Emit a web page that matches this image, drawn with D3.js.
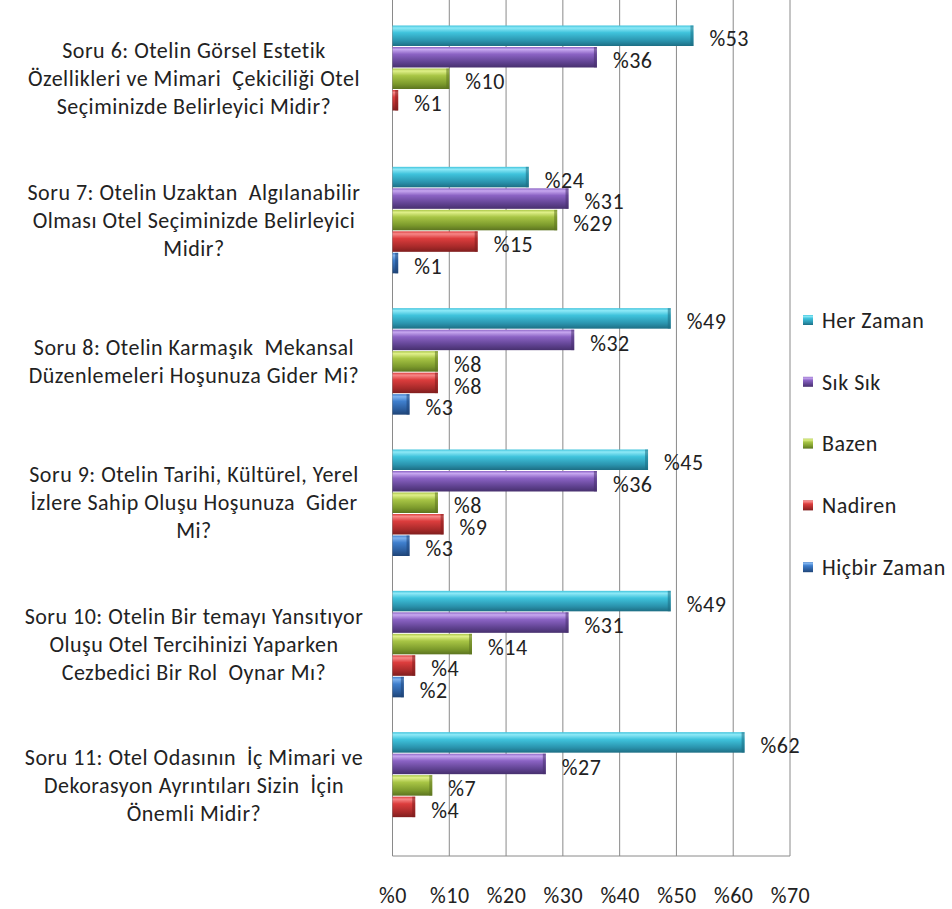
<!DOCTYPE html>
<html>
<head>
<meta charset="utf-8">
<script src="https://cdn.jsdelivr.net/npm/d3@7/dist/d3.min.js"></script>
<style>
  html, body { margin: 0; padding: 0; background: #fff; }
  svg { display: block; }
  text { font-family: Carlito, Lato, "Open Sans", sans-serif; fill: #222; letter-spacing: 0.5px; }
</style>
</head>
<body>
<svg id="chart" width="952" height="909"></svg>
<script>
// Survey questions (category labels, one array of lines per question)
const categories = ["Soru 6", "Soru 7", "Soru 8", "Soru 9", "Soru 10", "Soru 11"];
const categoryLines = [
  ["Soru 6: Otelin Görsel Estetik", "Özellikleri ve Mimari  Çekiciliği Otel", "Seçiminizde Belirleyici Midir?"],
  ["Soru 7: Otelin Uzaktan  Algılanabilir", "Olması Otel Seçiminizde Belirleyici", "Midir?"],
  ["Soru 8: Otelin Karmaşık  Mekansal", "Düzenlemeleri Hoşunuza Gider Mi?"],
  ["Soru 9: Otelin Tarihi, Kültürel, Yerel", "İzlere Sahip Oluşu Hoşunuza  Gider", "Mi?"],
  ["Soru 10: Otelin Bir temayı Yansıtıyor", "Oluşu Otel Tercihinizi Yaparken", "Cezbedici Bir Rol  Oynar Mı?"],
  ["Soru 11: Otel Odasının  İç Mimari ve", "Dekorasyon Ayrıntıları Sizin  İçin", "Önemli Midir?"]
];

// Answer options (series)
const series = ["Her Zaman", "Sık Sık", "Bazen", "Nadiren", "Hiçbir Zaman"];

// Percentages per series, in category order (null = no answer shown)
const herZaman    = [53, 24, 49, 45, 49, 62];
const sikSik      = [36, 31, 32, 36, 31, 27];
const bazen       = [10, 29, 8, 8, 14, 7];
const nadiren     = [1, 15, 8, 9, 4, 4];
const hicbirZaman = [null, 1, 3, 3, 2, null];

// Axis ticks
const xTicks = [0, 10, 20, 30, 40, 50, 60, 70];

const seriesValues = [herZaman, sikSik, bazen, nadiren, hicbirZaman];

// Bar shading: [highlight, main, shadow, edge]
const palette = [
  ["#8ee9f7", "#3fc3dc", "#2a93ad", "#1d6e84"],
  ["#c7a8f0", "#8b63c4", "#5f4290", "#47306e"],
  ["#e0f08a", "#a8c545", "#7c9a2c", "#5c7420"],
  ["#f78888", "#dc3d3d", "#a82a2a", "#801e1e"],
  ["#7fb3ef", "#3f7fcd", "#2b5c9c", "#1f4476"]
];

const FONT = 22;

const svg = d3.select("#chart");
const defs = svg.append("defs");

palette.forEach((c, i) => {
  const g = defs.append("linearGradient")
    .attr("id", "bar" + i).attr("x1", 0).attr("y1", 0).attr("x2", 0).attr("y2", 1);
  g.append("stop").attr("offset", "0%").attr("stop-color", c[1]);
  g.append("stop").attr("offset", "12%").attr("stop-color", c[0]);
  g.append("stop").attr("offset", "35%").attr("stop-color", c[1]);
  g.append("stop").attr("offset", "75%").attr("stop-color", c[2]);
  g.append("stop").attr("offset", "100%").attr("stop-color", c[3]);
});

const plotTop = 0, plotBottom = 856;

const x = d3.scaleLinear().domain([0, 70]).range([392.5, 790]);
const y = d3.scaleBand().domain(categories).range([8, 856]).padding(0);
const ySub = d3.scaleBand().domain(series).range([17, 124.5]).padding(0);

// Gridlines and frame
const grid = svg.append("g");
grid.selectAll("line.v").data(xTicks).join("line")
  .attr("x1", d => x(d)).attr("x2", d => x(d))
  .attr("y1", plotTop).attr("y2", plotBottom)
  .attr("stroke", "#8a8a8a").attr("stroke-width", 1);
grid.append("line")
  .attr("x1", x(0)).attr("x2", x(70))
  .attr("y1", plotBottom).attr("y2", plotBottom)
  .attr("stroke", "#8a8a8a").attr("stroke-width", 1);

// Tick labels
const xAxis = d3.axisBottom(x).tickValues(xTicks).tickFormat(d => "%" + d).tickSize(0);
const axisG = svg.append("g").attr("transform", `translate(0, 884)`).call(xAxis);
axisG.select(".domain").remove();
axisG.selectAll("text").attr("font-size", FONT)
  .style("font-family", "Carlito, Lato, 'Open Sans', sans-serif")
  .style("letter-spacing", "0.5px")
  .attr("fill", "#222");

// Bars
const rows = [];
categories.forEach((cat, ci) => {
  series.forEach((s, si) => {
    const v = seriesValues[si][ci];
    if (v !== null) rows.push({ cat, s, si, v });
  });
});

const bars = svg.append("g");
const bh = ySub.bandwidth();
rows.forEach(d => {
  const y0 = y(d.cat) + ySub(d.s);
  const w = x(d.v) - x(0);
  bars.append("rect")
    .attr("x", x(0)).attr("y", y0 + 0.5)
    .attr("width", w).attr("height", bh - 1)
    .attr("fill", `url(#bar${d.si})`);
  // bevelled end cap
  bars.append("rect")
    .attr("x", x(d.v) - Math.min(3, w)).attr("y", y0 + 0.5)
    .attr("width", Math.min(3, w)).attr("height", bh - 1)
    .attr("fill", palette[d.si][3]).attr("opacity", 0.55);
});

// Value labels
svg.append("g").selectAll("text").data(rows).join("text")
  .attr("x", d => x(d.v) + 16)
  .attr("y", d => y(d.cat) + ySub(d.s) + bh / 2 + 3)
  .attr("dy", "0.35em")
  .attr("font-size", FONT)
  .text(d => "%" + d.v);

// Category labels
const lineH = 28;
const catG = svg.append("g");
categories.forEach((cat, ci) => {
  const lines = categoryLines[ci];
  const cy = y(cat) + y.bandwidth() / 2;
  const t = catG.append("text")
    .attr("text-anchor", "middle")
    .attr("font-size", FONT)
    .style("white-space", "pre");
  lines.forEach((ln, li) => {
    t.append("tspan")
      .attr("x", 194)
      .attr("y", cy + (li - (lines.length - 1) / 2) * lineH)
      .attr("dy", "0.35em")
      .text(ln);
  });
});

// Legend
const legend = svg.append("g");
series.forEach((s, i) => {
  const ly = 320 + i * 61.8;
  legend.append("rect")
    .attr("x", 803).attr("y", ly - 5).attr("width", 10).attr("height", 10)
    .attr("fill", `url(#bar${i})`);
  legend.append("text")
    .attr("x", 822).attr("y", ly).attr("dy", "0.35em")
    .attr("font-size", FONT)
    .text(s);
});
</script>
</body>
</html>
